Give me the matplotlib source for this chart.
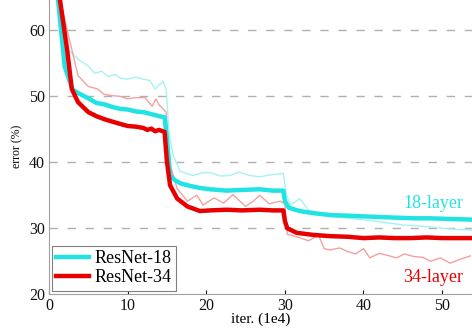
import matplotlib
matplotlib.use('Agg')
import matplotlib.pyplot as plt

plt.rcParams['font.family'] = 'Liberation Serif'

# thick lines: ResNet-18 / ResNet-34 (validation), thin lines: training
r18_x = [1.15, 2.0, 3.0, 4.0, 5.0, 6.0, 7.0, 8.0, 9.0, 10.0, 11.0, 12.0, 13.0, 14.0, 14.7,
         15.0, 15.4, 16.0, 16.7, 18.0, 19.2, 20.5, 22.6, 24.5, 26.8, 28.5, 29.8,
         30.0, 30.5, 31.9, 33.5, 35.7, 38.0, 39.9, 42.0, 44.2, 46.5, 48.5, 51.0, 54.0]
r18_y = [64.5, 54.4, 50.9, 50.2, 49.6, 48.9, 48.7, 48.3, 48.0, 47.9, 47.6, 47.5, 47.2, 46.9, 46.7,
         43.5, 37.9, 37.2, 36.7, 36.3, 36.0, 35.8, 35.6, 35.7, 35.8, 35.6, 35.6,
         34.0, 33.0, 32.5, 32.2, 31.9, 31.8, 31.7, 31.6, 31.5, 31.4, 31.4, 31.3, 31.2]

r34_x = [1.4, 2.3, 2.9, 3.7, 5.0, 6.0, 7.1, 8.5, 10.0, 11.0, 12.0, 12.5, 13.0, 13.5, 14.0, 14.7,
         15.0, 15.4, 16.3, 17.6, 19.2, 20.5, 22.6, 24.5, 26.8, 28.5, 29.8,
         30.0, 30.3, 31.5, 33.5, 35.7, 38.0, 40.0, 42.0, 44.0, 46.0, 48.0, 50.0, 52.0, 54.0]
r34_y = [64.5, 57.0, 51.0, 49.0, 47.5, 46.9, 46.4, 45.9, 45.4, 45.3, 45.1, 44.8, 45.0, 44.6, 44.8, 44.5,
         40.0, 36.4, 34.4, 33.2, 32.5, 32.6, 32.7, 32.6, 32.7, 32.6, 32.6,
         31.0, 29.9, 29.2, 28.9, 28.7, 28.6, 28.4, 28.5, 28.4, 28.4, 28.5, 28.4, 28.4, 28.4]

t18_x = [1.3, 2.4, 3.7, 5.0, 5.8, 6.7, 7.5, 8.4, 9.2, 10.0, 11.0, 12.0, 12.8, 13.5, 14.5, 14.9,
         15.3, 15.8, 16.7, 18.3, 19.5, 20.6, 21.8, 23.0, 24.2, 25.5, 26.8, 28.3, 29.8,
         30.2, 30.7, 31.9, 33.0, 35.7, 38.0, 40.0, 42.5, 45.0, 47.5, 50.0, 52.0, 54.0]
t18_y = [64.5, 57.0, 55.5, 54.5, 53.4, 53.7, 52.9, 53.2, 52.6, 52.5, 52.8, 52.5, 52.3, 51.0, 52.2, 51.0,
         44.0, 40.9, 38.5, 37.9, 38.3, 38.3, 37.8, 37.9, 38.4, 37.9, 37.7, 38.0, 38.2,
         35.0, 33.4, 34.4, 32.6, 31.7, 31.4, 31.2, 30.8, 30.4, 30.2, 29.9, 29.7, 29.6]

t34_x = [1.4, 2.7, 3.7, 5.0, 6.2, 7.0, 8.0, 9.0, 10.0, 11.0, 12.2, 13.1, 13.6, 14.0, 14.5, 14.9,
         15.3, 16.3, 17.6, 18.8, 19.6, 21.0, 22.2, 23.4, 25.0, 26.0, 26.8, 28.0, 29.4, 30.0,
         30.3, 31.5, 33.0, 34.3, 35.0, 35.7, 37.0, 37.9, 39.0, 40.0, 40.8, 42.0, 43.0, 44.2,
         45.2, 46.4, 47.5, 48.5, 49.8, 51.0, 52.3, 53.6]
t34_y = [64.5, 58.0, 53.0, 51.4, 51.0, 50.2, 50.0, 49.9, 49.5, 49.7, 49.7, 48.4, 49.5, 48.6, 48.0, 47.5,
         40.0, 35.9, 34.0, 34.9, 33.4, 34.5, 33.7, 35.0, 33.2, 34.0, 34.9, 33.6, 34.0, 33.6,
         29.0, 28.6, 28.0, 28.8, 26.8, 26.6, 26.9, 26.4, 26.0, 26.8, 25.4, 26.1, 25.8, 25.4,
         26.0, 25.6, 25.5, 24.9, 25.4, 24.6, 25.2, 25.7]

fig = plt.figure(figsize=(4.72, 3.31), dpi=100)
ax = fig.add_axes([49 / 472, 37.5 / 331, 1 - 49 / 472, 1 - 37.5 / 331])

ax.plot(t18_x, t18_y, color='#a6f2f2', linewidth=1.0)
ax.plot(t34_x, t34_y, color='#f5a0a0', linewidth=1.0)
ax.plot(r18_x, r18_y, color='#22e3e3', linewidth=3.2, label='ResNet-18')
ax.plot(r34_x, r34_y, color='#e60000', linewidth=3.2, label='ResNet-34')

for yv in [30, 40, 50, 60]:
    ax.axhline(yv, color='#b0b0b0', linewidth=1.0, dashes=(6, 7), zorder=0)

ax.set_xlim(0, 53.8)
ax.set_ylim(20, 64.5)
ax.set_xticks([0, 10, 20, 30, 40, 50])
ax.set_yticks([20, 30, 40, 50, 60])
ax.tick_params(direction='in', labelsize=11.5, colors='#111111', length=3)
ax.tick_params(axis='y', length=0, pad=3)
for s in ['top', 'right']:
    ax.spines[s].set_visible(False)
for s in ['left', 'bottom']:
    ax.spines[s].set_color('#a0a0a0')

ax.set_xlabel('iter. (1e4)', fontsize=11, labelpad=-1)
ax.set_ylabel('error (%)', fontsize=8.5, labelpad=4)

ax.text(433, 331 - 203, '18-layer', color='#22e3e3', fontsize=13, ha='center', va='center',
        transform=None)
ax.text(433, 331 - 278, '34-layer', color='#e60000', fontsize=13, ha='center', va='center',
        transform=None)

leg = ax.legend(loc='lower left', fontsize=13, fancybox=False, edgecolor='#808080',
                framealpha=1, handlelength=1.8, handletextpad=0.3, borderpad=0.25,
                labelspacing=0.1, borderaxespad=0.15)
leg.get_frame().set_linewidth(0.8)

fig.savefig('out.png', dpi=100)
